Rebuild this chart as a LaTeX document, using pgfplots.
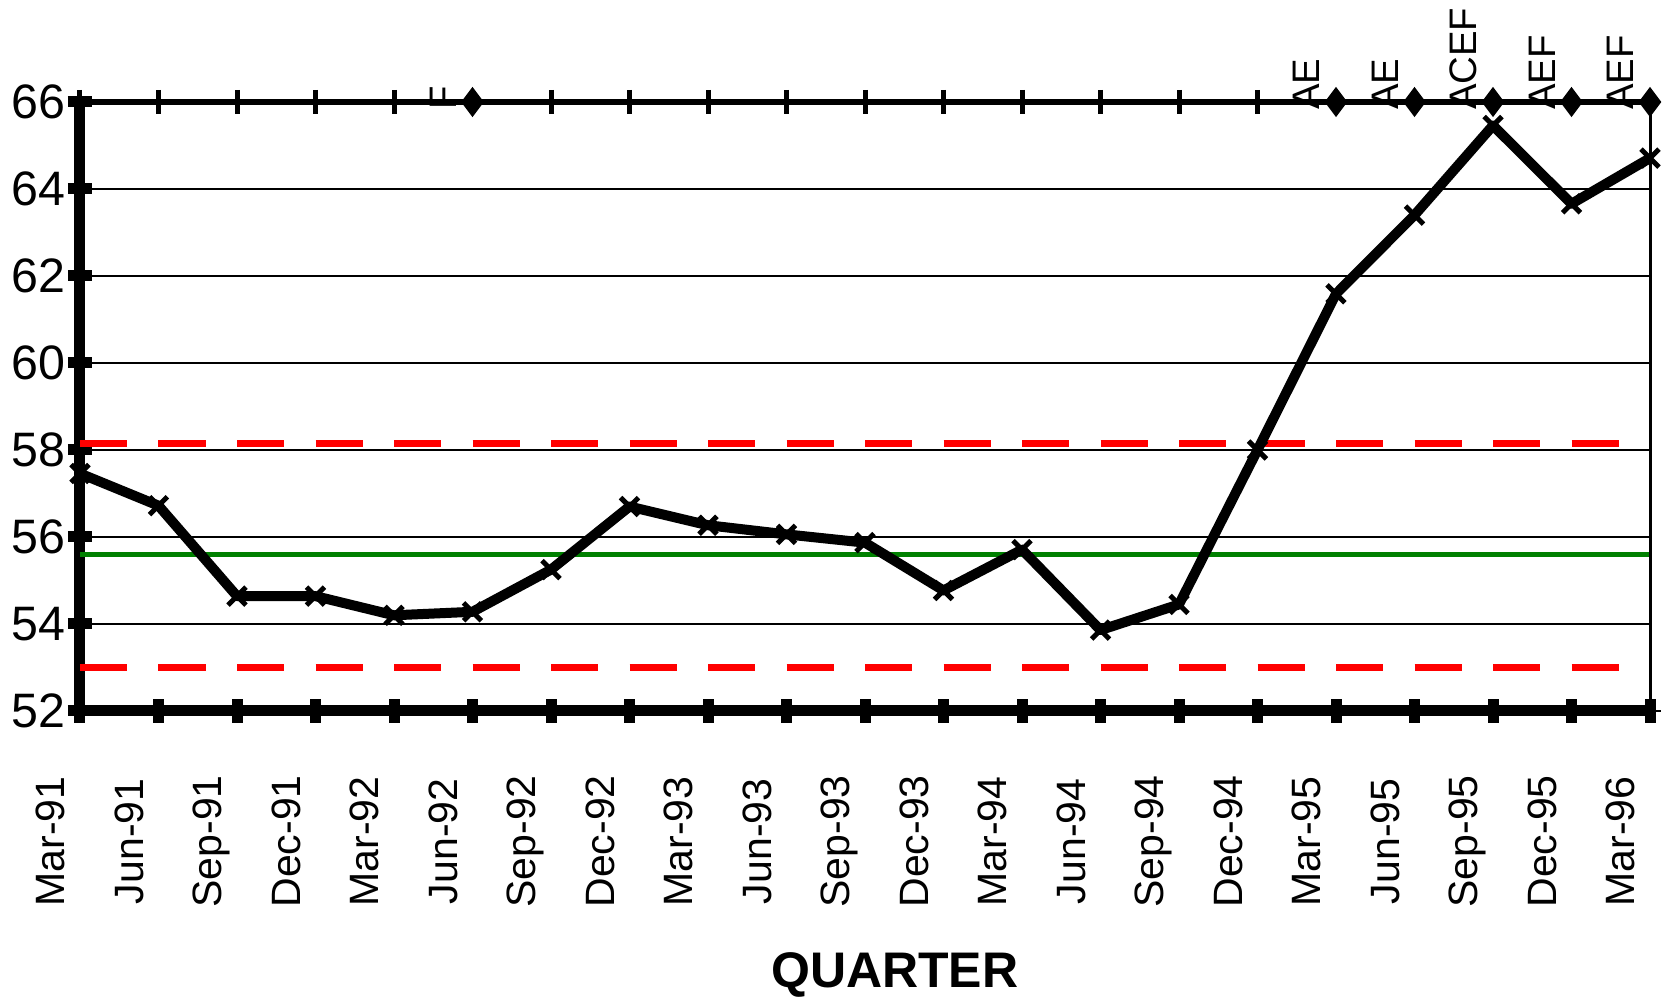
\documentclass[border=0pt]{standalone}
\usepackage{fontspec}
\setmainfont{Liberation Sans}
\usepackage{pgfplots}
\pgfplotsset{compat=1.18}
\definecolor{cgreen}{RGB}{0,128,0}

% 1 px of the reference = 0.3pt
\pgfplotstableread{
x y
0 57.46
1 56.72
2 54.64
3 54.64
4 54.20
5 54.28
6 55.25
7 56.70
8 56.27
9 56.06
10 55.87
11 54.77
12 55.71
13 53.86
14 54.45
15 58.00
16 61.59
17 63.40
18 65.46
19 63.66
20 64.71
}\quarterly

\pgfplotstableread{
x y lab
5 66 F
16 66 AE
17 66 AE
18 66 ACEF
19 66 AEF
20 66 AEF
}\flags

\begin{document}
\begin{tikzpicture}
\begin{axis}[
    at={(24pt,85.8pt)}, anchor=south west,
    scale only axis, width=471pt, height=182.7pt,
    xmin=0, xmax=20, ymin=52, ymax=66,
    clip=false,
    axis x line*=bottom, axis y line*=left,
    x axis line style={-, line width=3.3pt},
    y axis line style={-, line width=3.3pt},
    tick align=center,
    major tick length=7.2pt,
    tick style={black, line width=3.3pt},
    xtick={0,...,20},
    xticklabels={Mar-91,Jun-91,Sep-91,Dec-91,Mar-92,Jun-92,Sep-92,Dec-92,Mar-93,Jun-93,Sep-93,Dec-93,Mar-94,Jun-94,Sep-94,Dec-94,Mar-95,Jun-95,Sep-95,Dec-95,Mar-96},
    ytick={52,54,...,66},
    /pgf/number format/assume math mode=true,
    ymajorgrids,
    major grid style={black, line width=0.6pt},
    xticklabel style={font=\fontsize{12.3}{13}\selectfont, inner sep=0pt,
        text height=8.8pt, text depth=0pt,
        xshift=-9pt, yshift=-35.5pt, rotate=90, anchor=center},
    yticklabel style={font=\fontsize{14.5}{15}\selectfont, inner sep=0pt,
        anchor=east, xshift=-0.7pt},
    xlabel={QUARTER},
    xlabel style={at={(axis description cs:0.519,-0.425)}, anchor=center,
        font=\fontsize{15}{16}\selectfont\bfseries, inner sep=0pt,
        text depth=0pt},
]
% control limits and centre line
\addplot[red, line width=2.3pt, dash pattern=on 14.1pt off 9.45pt]
    coordinates {(0,58.15) (20,58.15)};
\addplot[red, line width=2.3pt, dash pattern=on 14.1pt off 9.45pt]
    coordinates {(0,53.0) (20,53.0)};
\addplot[cgreen, line width=1.7pt] coordinates {(0,55.6) (20,55.6)};

% quarterly series
\addplot[black, line width=3pt, line join=round, mark=x, mark size=3.8pt,
    mark options={line width=1.5pt}] table[x=x, y=y] {\quarterly};

% top line with tick marks and flagged quarters
\addplot[black, line width=1.8pt] coordinates {(0,66) (20,66)};
\addplot[black, only marks, mark=|, mark size=3.6pt,
    mark options={line width=1.5pt}]
    coordinates {(0,66)(1,66)(2,66)(3,66)(4,66)(6,66)(7,66)(8,66)(9,66)
    (10,66)(11,66)(12,66)(13,66)(14,66)(15,66)};
\addplot[black, only marks, mark=diamond*, mark size=4.2pt,
    nodes near coords, point meta=explicit symbolic,
    every node near coord/.style={xshift=-9pt, yshift=-2.6pt, rotate=90,
        anchor=west, inner sep=0pt, text height=8.2pt, text depth=0pt,
        font=\fontsize{11.5}{12}\selectfont}]
    table[x=x, y=y, meta=lab] {\flags};

% thin right border
\draw[black, line width=0.9pt] (axis cs:20,52) -- (axis cs:20,66);
\draw[black, line width=0.6pt] (axis cs:20,52) -- ([xshift=3.3pt]axis cs:20,52);
\end{axis}
\pgfresetboundingbox
\path[use as bounding box] (0,0) rectangle (500.7pt,299.1pt);
\end{tikzpicture}
\end{document}
